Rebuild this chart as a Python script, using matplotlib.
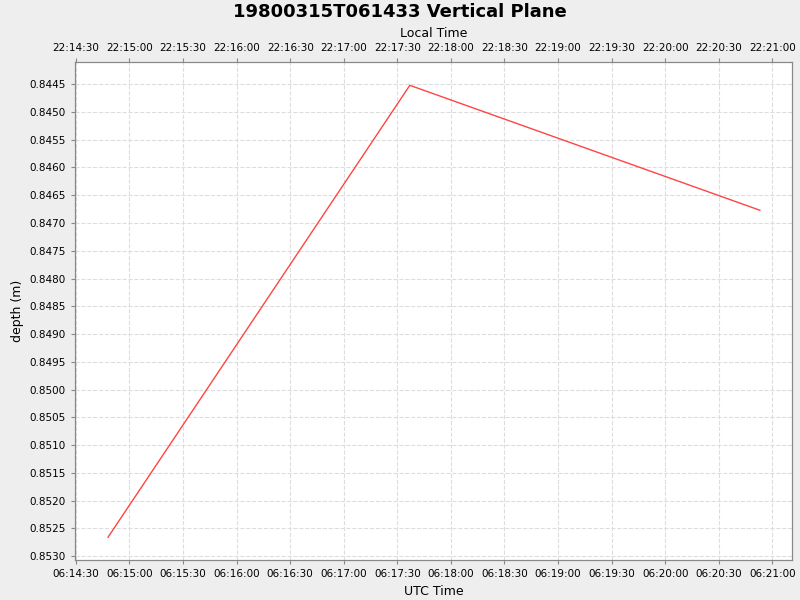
import matplotlib
matplotlib.use("Agg")
import matplotlib.pyplot as plt
import matplotlib.dates as mdates
from datetime import datetime, timedelta

times = ["1980-03-15 06:14:48", "1980-03-15 06:17:37", "1980-03-15 06:20:53"]
depth = [0.85266, 0.84452, 0.84677]

t = [datetime.strptime(s, "%Y-%m-%d %H:%M:%S") for s in times]

fig = plt.figure(figsize=(8, 6), dpi=100, facecolor="#EEEEEE")
ax = fig.add_axes([75/800, 1-560/600, 717/800, 498/600])
ax.set_facecolor("white")
ax.plot(t, depth, color="#FF4444", lw=1)
ax.set_xlim(datetime(1980,3,15,6,14,29,500000), datetime(1980,3,15,6,21,11))
ax.set_ylim(0.85307, 0.84410)
ax.set_yticks([0.8445 + 0.0005*i for i in range(18)])
ax.yaxis.set_major_formatter(matplotlib.ticker.FormatStrFormatter("%.4f"))
ax.xaxis.set_major_locator(mdates.SecondLocator(bysecond=[0, 30]))
ax.xaxis.set_major_formatter(mdates.DateFormatter("%H:%M:%S"))
ax.grid(True, color="#DDDDDD", ls="--", lw=0.8)
ax.tick_params(labelsize=7.5, length=3, color="#888888")
for s in ax.spines.values():
    s.set_color("#888888")
ax.set_xlabel("UTC Time", fontsize=9)
ax.set_ylabel("depth (m)", fontsize=9)

ax2 = ax.twiny()
lo, hi = ax.get_xlim()
ax2.set_xlim(lo - 8/24, hi - 8/24)
ax2.xaxis.set_major_locator(mdates.SecondLocator(bysecond=[0, 30]))
ax2.xaxis.set_major_formatter(mdates.DateFormatter("%H:%M:%S"))
ax2.tick_params(labelsize=7.5, length=3, color="#888888")
ax2.set_xlabel("Local Time", fontsize=9)
for s in ax2.spines.values():
    s.set_color("#888888")

fig.suptitle("19800315T061433 Vertical Plane", fontsize=13, fontweight="bold", y=0.995)
fig.savefig("out.png", facecolor=fig.get_facecolor())
